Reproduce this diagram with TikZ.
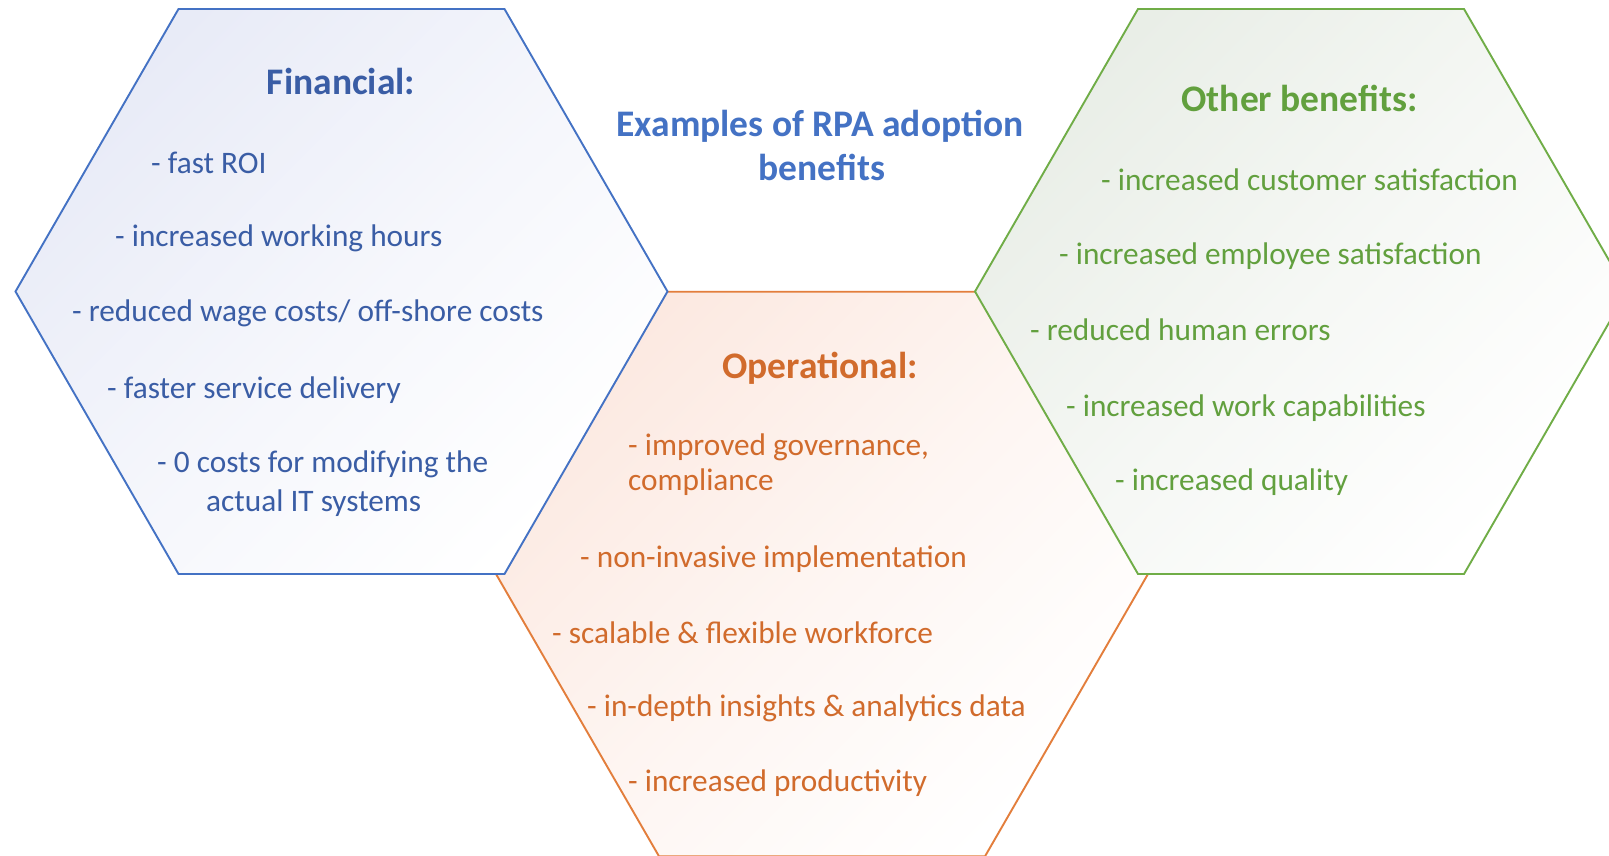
\documentclass[tikz,border=0pt]{standalone}
\usepackage{fontspec}
\setmainfont{Carlito}
\definecolor{bline}{HTML}{4472C4}
\definecolor{btext}{HTML}{3A5DA5}
\definecolor{btitle}{HTML}{4472C4}
\definecolor{bfill}{HTML}{E8EBF7}
\definecolor{oline}{HTML}{E37E3C}
\definecolor{otext}{HTML}{D16B2C}
\definecolor{ofill}{HTML}{FCE9E1}
\definecolor{gline}{HTML}{70AD47}
\definecolor{gtext}{HTML}{62A03E}
\definecolor{gfill}{HTML}{E9EEE7}
\tikzset{
  hexshape/.style={line width=1.9pt, line join=miter},
  hexblue/.style={hexshape, draw=bline, top color=bfill, bottom color=white, middle color=white!55!bfill, shading angle=45},
  hexorange/.style={hexshape, draw=oline, top color=ofill, bottom color=white, middle color=white!55!ofill, shading angle=45},
  hexgreen/.style={hexshape, draw=gline, top color=gfill, bottom color=white, middle color=white!55!gfill, shading angle=45},
  itemtext/.style={anchor=base west, inner sep=0pt, font=\fontsize{31.3}{37}\selectfont},
  headtext/.style={anchor=base, inner sep=0pt, font=\fontsize{37.5}{42}\selectfont\bfseries},
}
\begin{document}
\begin{tikzpicture}[x=1pt,y=-1pt]
\useasboundingbox (0,0) rectangle (1609,856);
\fill[white] (0,0) rectangle (1609,856);
% orange (middle, lower)
\draw[hexorange] (496,574) -- (659,291.7) -- (985,291.7) -- (1148,574) -- (985,856.3) -- (659,856.3) -- cycle;
% blue (left)
\draw[hexblue] (15.5,291.5) -- (178.5,9) -- (504.5,9) -- (667.5,291.5) -- (504.5,574) -- (178.5,574) -- cycle;
% green (right)
\draw[hexgreen] (975,291.5) -- (1138,9) -- (1464,9) -- (1627,291.5) -- (1464,574) -- (1138,574) -- cycle;

% title
\node[headtext, text=btitle] (title1) at (820,137) {Examples of RPA adoption};
\node[headtext, text=btitle] (title2) at (822,180) {benefits};

% financial
\node[headtext, text=btext] (fhead) at (341,95) {Financial:};
\node[itemtext, text=btext] (f1) at (151,173) {- fast ROI};
\node[itemtext, text=btext] (f2) at (115,246.5) {- increased working hours};
\node[itemtext, text=btext] (f3) at (72,321.5) {- reduced wage costs/ off-shore costs};
\node[itemtext, text=btext] (f4) at (107,398.5) {- faster service delivery};
\node[itemtext, text=btext] (f5) at (157,472.5) {- 0 costs for modifying the};
\node[itemtext, text=btext] (f6) at (206,511.5) {actual IT systems};

% operational
\node[headtext, text=otext] (ohead) at (820,378) {Operational:};
\node[itemtext, text=otext] (o1) at (628,455) {- improved governance,};
\node[itemtext, text=otext] (o2) at (628,490.5) {compliance};
\node[itemtext, text=otext] (o3) at (580,567) {- non-invasive implementation};
\node[itemtext, text=otext] (o4) at (552,643.5) {- scalable \& flexible workforce};
\node[itemtext, text=otext] (o5) at (587,716.5) {- in-depth insights \& analytics data};
\node[itemtext, text=otext] (o6) at (628,791) {- increased productivity};

% other benefits
\node[headtext, text=gtext] (ghead) at (1299.5,112) {Other benefits:};
\node[itemtext, text=gtext] (g1) at (1101,190.5) {- increased customer satisfaction};
\node[itemtext, text=gtext] (g2) at (1059,264.5) {- increased employee satisfaction};
\node[itemtext, text=gtext] (g3) at (1030,340) {- reduced human errors};
\node[itemtext, text=gtext] (g4) at (1066,416) {- increased work capabilities};
\node[itemtext, text=gtext] (g5) at (1115,490) {- increased quality};
\end{tikzpicture}
\end{document}
